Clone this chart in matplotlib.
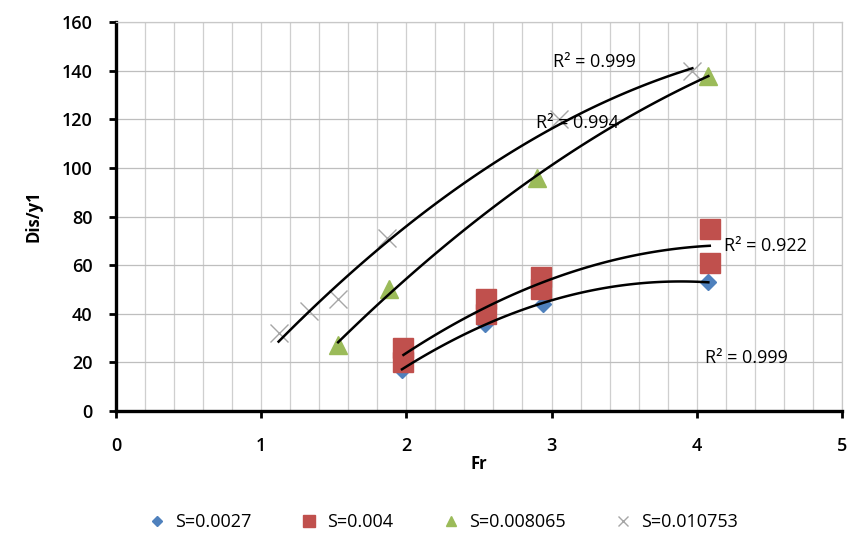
import numpy as np
import matplotlib
matplotlib.use("Agg")
import matplotlib.pyplot as plt
from matplotlib.ticker import MultipleLocator

plt.rcParams['font.family'] = ['Open Sans', 'DejaVu Sans']

# data
fr_a = [1.97, 2.54, 2.94, 4.08]
dis_a = [17, 36, 44, 53]

fr_b = [1.98, 1.98, 2.55, 2.55, 2.93, 2.93, 4.09, 4.09]
dis_b = [20, 26, 40, 46, 50, 55, 61, 75]

fr_c = [1.53, 1.88, 2.90, 4.08]
dis_c = [27, 50, 96, 138]

fr_d = [1.12, 1.33, 1.53, 1.87, 3.05, 3.97]
dis_d = [32, 41, 46, 71, 120, 140]

labels = ['S=0.0027', 'S=0.004', 'S=0.008065', 'S=0.010753']
r2_text = ['R² = 0.999', 'R² = 0.922', 'R² = 0.994', 'R² = 0.999']

fig = plt.figure(figsize=(8.51, 5.38), dpi=100)
ax = fig.add_axes([0.1363, 0.236, 0.853, 0.723])

ax.plot(fr_a, dis_a, linestyle='none', marker='D', color='#4F81BD', markersize=8, label=labels[0], zorder=3)
ax.plot(fr_b, dis_b, linestyle='none', marker='s', color='#C0504D', markersize=14, label=labels[1], zorder=3)
ax.plot(fr_c, dis_c, linestyle='none', marker='^', color='#9BBB59', markersize=13, label=labels[2], zorder=3)
ax.plot(fr_d, dis_d, linestyle='none', marker='x', color='#A6A6A6', markersize=13, markeredgewidth=1.0, label=labels[3], zorder=3)

# 2nd order polynomial trendlines
for xs, ys in [(fr_a, dis_a), (fr_b, dis_b), (fr_c, dis_c), (fr_d, dis_d)]:
    p = np.polyfit(xs, ys, 2)
    xx = np.linspace(min(xs), max(xs), 100)
    ax.plot(xx, np.polyval(p, xx), color='black', linewidth=1.8, zorder=4)

ax.text(4.06, 22, r2_text[0], fontsize=13, ha='left', va='center')
ax.text(4.19, 68, r2_text[1], fontsize=13, ha='left', va='center')
ax.text(2.89, 118.5, r2_text[2], fontsize=13, ha='left', va='center')
ax.text(3.01, 143.5, r2_text[3], fontsize=13, ha='left', va='center')

ax.set_xlim(0, 5)
ax.set_ylim(0, 160)
ax.xaxis.set_major_locator(MultipleLocator(1))
ax.xaxis.set_minor_locator(MultipleLocator(0.2))
ax.yaxis.set_major_locator(MultipleLocator(20))
ax.grid(which='major', axis='y', color='#BEBEBE', linewidth=0.9)
ax.grid(which='both', axis='x', color='#CFCFCF', linewidth=0.9)
ax.tick_params(axis='both', which='major', labelsize=13, direction='out', length=5, width=2)
ax.tick_params(axis='x', which='major', pad=14)
ax.tick_params(axis='y', which='major', pad=12)
ax.tick_params(axis='x', which='minor', length=0)
for lbl in ax.get_xticklabels() + ax.get_yticklabels():
    lbl.set_fontweight('semibold')
ax.set_axisbelow(True)

for s in ['left', 'bottom']:
    ax.spines[s].set_linewidth(2.4)
    ax.spines[s].set_color('black')
for s in ['top', 'right']:
    ax.spines[s].set_color('#C8C8C8')
    ax.spines[s].set_linewidth(0.9)

ax.set_xlabel('Fr', fontsize=12, fontweight='bold', labelpad=0)
ax.set_ylabel('Dis/y1', fontsize=12, fontweight='bold', labelpad=14)

fig.legend(loc='center', bbox_to_anchor=(0.515, 0.03), ncol=4, frameon=False,
           fontsize=13, handletextpad=0.0, columnspacing=2.2, markerscale=0.6)

fig.savefig('out.png', dpi=100)
